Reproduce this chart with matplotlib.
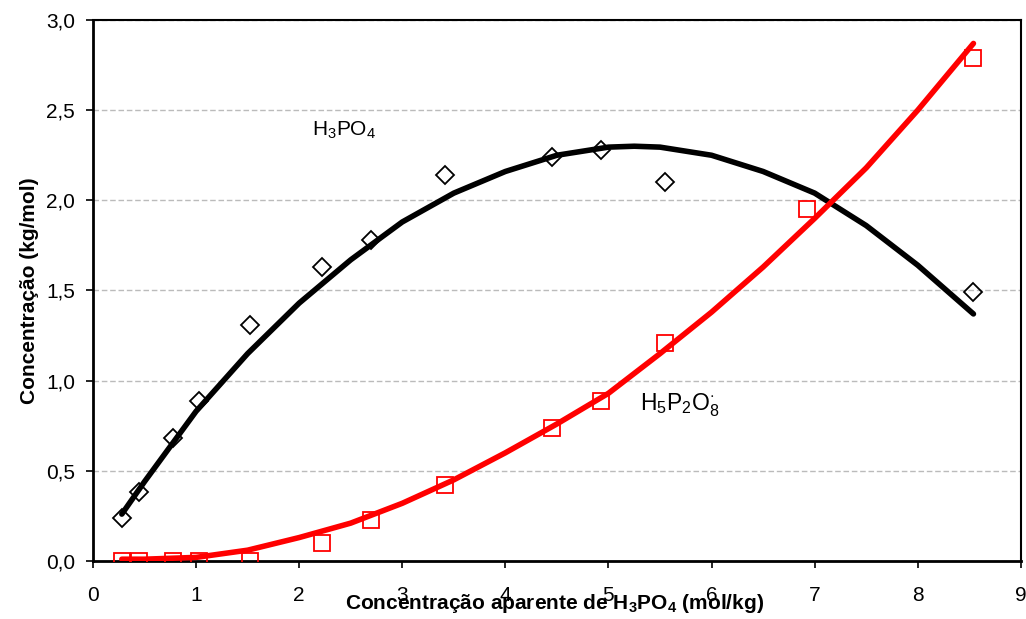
import matplotlib.pyplot as plt
from matplotlib.ticker import FixedLocator

plt.rcParams['font.family'] = ['Liberation Sans', 'DejaVu Sans']
plt.rcParams['mathtext.fontset'] = 'custom'
plt.rcParams['mathtext.rm'] = 'Liberation Sans'
plt.rcParams['mathtext.bf'] = 'Liberation Sans:bold'

# measured points
x_obs = [0.28, 0.45, 0.78, 1.03, 1.52, 2.22, 2.70, 3.41, 4.45, 4.93, 5.55, 8.54]
h3po4_obs = [0.24, 0.38, 0.68, 0.89, 1.31, 1.63, 1.78, 2.14, 2.24, 2.28, 2.10, 1.49]

x_obs2 = [0.28, 0.45, 0.78, 1.03, 1.52, 2.22, 2.70, 3.41, 4.45, 4.93, 5.55, 6.93, 8.54]
h5p2o8_obs = [0.0, 0.0, 0.0, 0.0, 0.0, 0.10, 0.23, 0.42, 0.74, 0.89, 1.21, 1.95, 2.79]

# fitted curves
x_fit = [0.28, 0.5, 1.0, 1.5, 2.0, 2.5, 3.0, 3.5, 4.0, 4.5, 5.0, 5.25, 5.5, 6.0, 6.5, 7.0, 7.5, 8.0, 8.54]
h3po4_fit = [0.26, 0.44, 0.83, 1.15, 1.43, 1.67, 1.88, 2.04, 2.16, 2.25, 2.295, 2.30, 2.295, 2.25, 2.16, 2.04, 1.86, 1.64, 1.37]
h5p2o8_fit = [0.01, 0.01, 0.02, 0.06, 0.13, 0.21, 0.32, 0.45, 0.60, 0.76, 0.93, 1.04, 1.15, 1.38, 1.63, 1.90, 2.18, 2.50, 2.87]

y_ticks = [0.0, 0.5, 1.0, 1.5, 2.0, 2.5, 3.0]
y_ticklabels = ['0,0', '0,5', '1,0', '1,5', '2,0', '2,5', '3,0']
x_ticks = [0, 1, 2, 3, 4, 5, 6, 7, 8, 9]

fig = plt.figure(figsize=(10.26, 6.19), dpi=100)
ax = fig.add_axes([0.0906, 0.0937, 0.9044, 0.874])

# markers
ax.plot(x_obs, h3po4_obs, 'D', ms=9, mfc='none', mec='black', mew=1.3, zorder=3)
ax.plot(x_obs2, h5p2o8_obs, 's', ms=11, mfc='none', mec='#ff0000', mew=1.3, zorder=3)

# curves
ax.plot(x_fit, h3po4_fit, color='black', lw=4, solid_capstyle='round', zorder=4)
ax.plot(x_fit, h5p2o8_fit, color='#ff0000', lw=4, solid_capstyle='round', zorder=5)

ax.text(2.44, 2.39, r'H$_3$PO$_4$', fontsize=15, ha='center', va='center')
ax.text(5.69, 0.865, r'H$_5$P$_2$O$^{\cdot}_{8}$', fontsize=16.5, ha='center', va='center')

ax.set_xlim(0, 9)
ax.set_ylim(0, 3)
ax.xaxis.set_major_locator(FixedLocator(x_ticks))
ax.set_yticks(y_ticks)
ax.set_yticklabels(y_ticklabels)
ax.tick_params(direction='out', length=5, width=1.2, labelsize=15)
ax.tick_params(axis='x', pad=13)
ax.tick_params(axis='y', pad=8)

ax.yaxis.grid(True, linestyle=(0, (4, 2)), color='#bbbbbb', lw=1.0)
ax.set_axisbelow(True)

for side in ['left', 'bottom']:
    ax.spines[side].set_linewidth(2.0)
for side in ['top', 'right']:
    ax.spines[side].set_linewidth(1.5)

ax.set_xlabel(r'Concentração aparente de H$_\mathbf{3}$PO$_\mathbf{4}$ (mol/kg)',
              fontsize=15, fontweight='bold')
ax.xaxis.set_label_coords(0.497, -0.058)
ax.set_ylabel('Concentração (kg/mol)', fontsize=15, fontweight='bold')
ax.yaxis.set_label_coords(-0.058, 0.5)

fig.savefig('out.png', dpi=100)
